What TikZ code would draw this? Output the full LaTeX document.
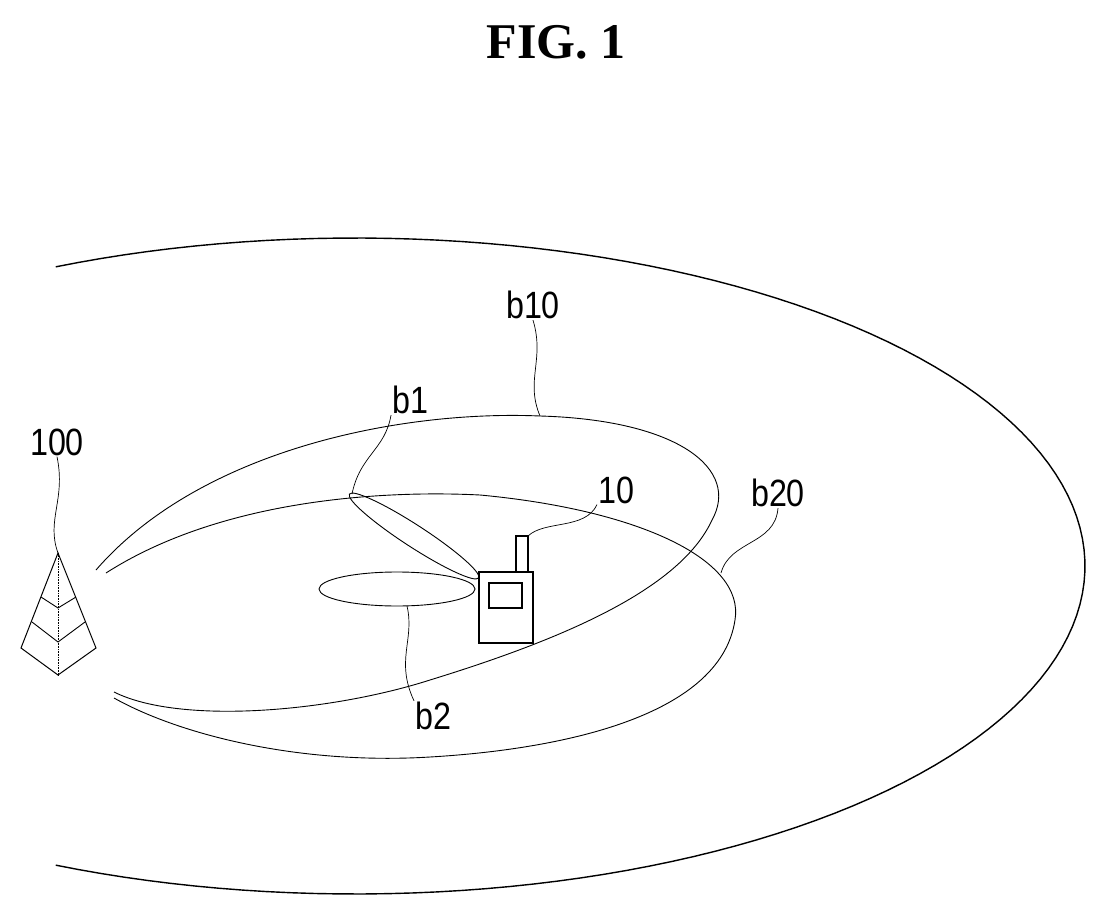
\documentclass[tikz,border=0pt]{standalone}
\usepackage{fontspec}
\setmainfont{Liberation Sans}
\newfontfamily\titlefont{Liberation Serif}
\usetikzlibrary{positioning}

\begin{document}
\begin{tikzpicture}
[
    x=1pt, y=-1pt,
    beam/.style={line width=0.9pt},
    leader/.style={line width=0.7pt},
    lbl/.style={font=\fontsize{38}{38}\selectfont, inner sep=1pt, xscale=0.85}]
    \useasboundingbox (0,0) rectangle (1108,917);
    \node[font=\titlefont\bfseries\fontsize{50}{50}\selectfont] (title) at (556,42) {FIG. 1};
    % coverage of the base station
    \draw[line width=1.4pt] plot[domain=114.2:-114.2, samples=120] ({355+730*cos(\x)},{566-328*sin(\x)});
    % base station 100
    \coordinate (apex) at (58,553);
    \draw[line width=1pt] (apex) -- (21,648) -- (58,675) -- (96,648) -- cycle;
    \draw[line width=0.9pt] (41,597) -- (58,608) -- (76,597) (32,622) -- (58,642) -- (85,622);
    \draw[line width=0.6pt, densely dotted] (apex) -- (58,675);
    % terminal 10
    \draw[line width=1.8pt] (479,572) rectangle (533,643);
    \draw[line width=1.4pt] (489,583) rectangle (522,608);
    \draw[line width=1.4pt] (516,572) -- (516,536) -- (528,536) coordinate (ant) -- (528,572);
    % wide beams b10 and b20
    \draw[beam] (96,570) .. controls (200,450) and (400,410) .. (540,416) coordinate (b10top)
        .. controls (680,420) and (740,470) .. (712,520)
        .. controls (680,590) and (560,640) .. (430,680)
        .. controls (330,712) and (180,725) .. (114,692);
    \draw[beam] (106,573) .. controls (220,500) and (380,490) .. (480,495)
        .. controls (640,510) and (745,560) .. (735,620)
        .. controls (720,720) and (550,750) .. (430,757)
        .. controls (300,765) and (180,735) .. (114,698);
    \coordinate (b20side) at (721,573);
    % narrow beams b1 and b2
    \draw[beam] (414,536) ellipse[x radius=77, y radius=11, rotate=-33];
    \coordinate (b1tip) at (352,494);
    \draw[beam] (397,589) ellipse[x radius=78, y radius=17];
    \coordinate (b2low) at (407,606);
    % labels
    \node[lbl] (l100) at (57,442) {100};
    \node[lbl] (l10) at (616,490) {10};
    \node[lbl] (lb10) at (533,305) {b10};
    \node[lbl] (lb1) at (410,400) {b1};
    \node[lbl] (lb20) at (778,493) {b20};
    \node[lbl] (lb2) at (433,716) {b2};
    \draw[leader] (apex) .. controls (46,520) and (66,500) .. (l100.south);
    \draw[leader] (ant) .. controls (545,520) and (585,530) .. (l10.south west);
    \draw[leader] (b10top) .. controls (525,380) and (545,360) .. (lb10.south);
    \draw[leader] (b1tip) .. controls (360,455) and (385,450) .. (lb1.south west);
    \draw[leader] (b20side) .. controls (730,540) and (775,545) .. (lb20.south);
    \draw[leader] (b2low) .. controls (415,640) and (395,660) .. (lb2.north west);
\end{tikzpicture}
\end{document}
